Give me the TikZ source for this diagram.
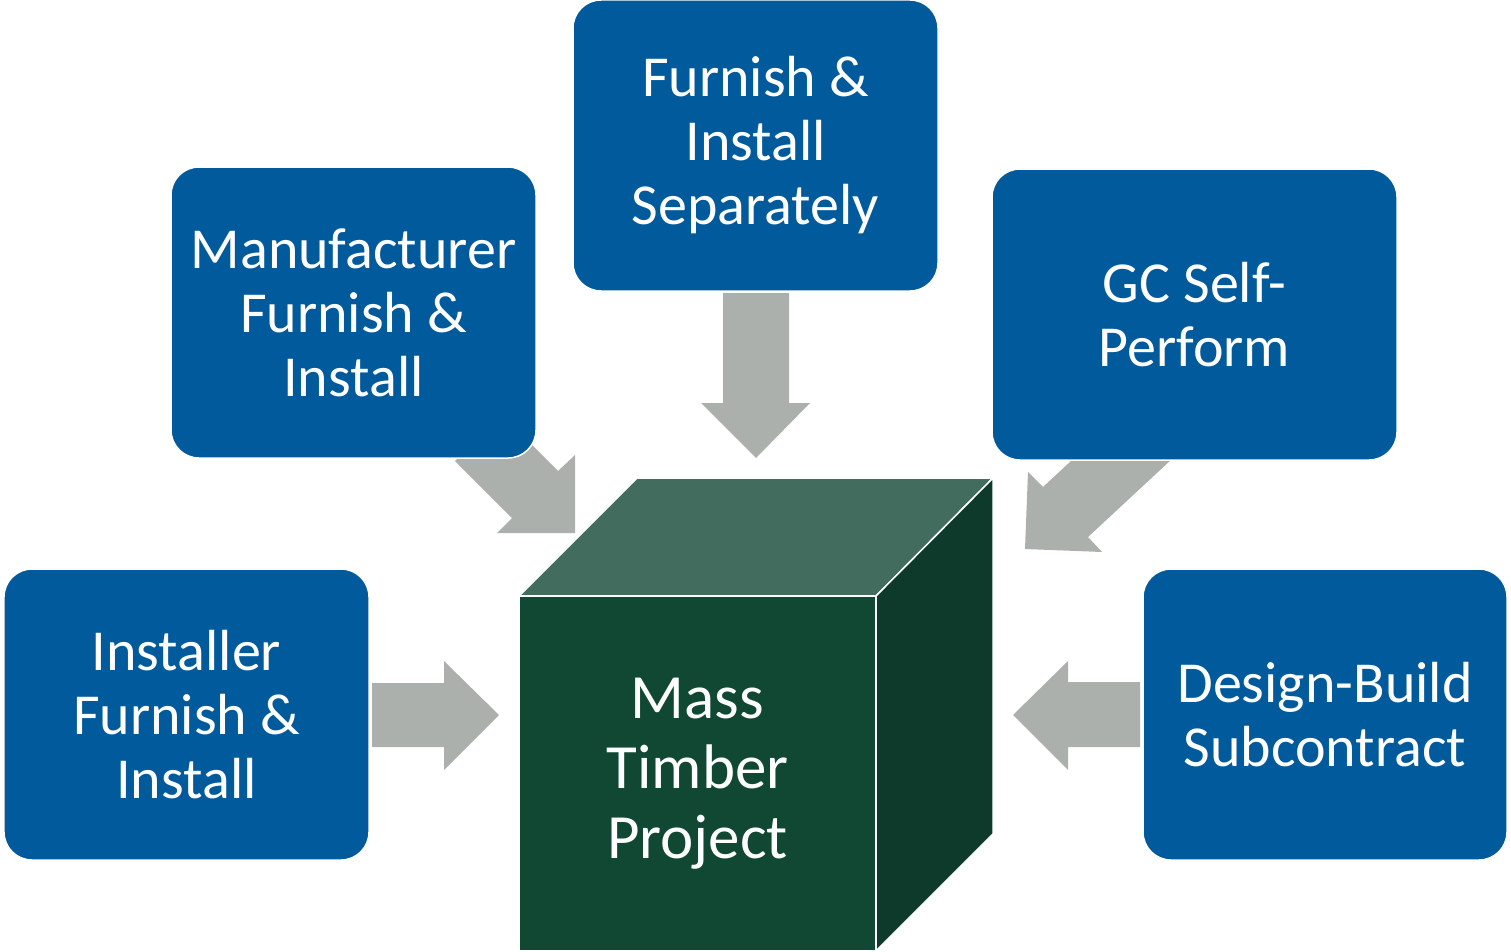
\documentclass[tikz,border=0pt]{standalone}
\usepackage{fontspec}
\setmainfont{Carlito}
\definecolor{boxblue}{HTML}{005A9C}
\definecolor{arrgray}{HTML}{ABB0AD}
\definecolor{cubefront}{HTML}{104834}
\definecolor{cubetop}{HTML}{416C5E}
\definecolor{cubeside}{HTML}{0E3A2C}
\begin{document}
\begin{tikzpicture}[x=1bp,y=-1bp,
  box/.style={draw=white, line width=1.5bp, fill=boxblue, rounded corners=28bp,
    minimum width=365bp, minimum height=291bp, inner sep=0pt, align=center,
    text=white, font=\fontsize{58bp}{64bp}\selectfont},
  blockarrow/.style={fill=arrgray},
  face/.style={draw=white, line width=1.5bp}]
\useasboundingbox (0,0) rectangle (1511,951);
% block arrows
\fill[blockarrow] (723,293) -- (789,293) -- (789,403) -- (810,403) -- (756,458) -- (701,403) -- (723,403) -- cycle;
\fill[blockarrow] (372,683) -- (444,683) -- (444,661) -- (499,715) -- (444,770) -- (444,747) -- (372,747) -- cycle;
\fill[blockarrow] (1140,682) -- (1068,682) -- (1068,661) -- (1013,715) -- (1068,770) -- (1068,747) -- (1140,747) -- cycle;
\fill[blockarrow] (455,461) -- (512,518) -- (497,533) -- (575,533) -- (575,455) -- (558,471) -- (501.5,414.5) -- cycle;
\fill[blockarrow] (1115,420) -- (1043,487) -- (1028,472) -- (1025,549) -- (1102,552) -- (1088,537) -- (1214,420) -- cycle;
% boxes
\node[box] (mfi) at (353.5,312.5) {Manufacturer\\Furnish \&\\Install};
\node[box] (fis) at (755.5,145.5) {Furnish \&\\Install\\Separately};
\node[box, minimum width=405bp] (gc) at (1194.5,314.5) {GC Self-\\Perform};
\node[box] (ifi) at (186.5,714.5) {Installer\\Furnish \&\\Install};
\node[box, minimum width=364bp] (dbs) at (1325,714.5) {Design-Build\\Subcontract};
% cube
\filldraw[face, fill=cubetop] (519,596) -- (637,478) -- (993,478) -- (876,596) -- cycle;
\filldraw[face, fill=cubeside] (876,596) -- (993,478) -- (993,834) -- (876,951) -- cycle;
\node[face, fill=cubefront, minimum width=357bp, minimum height=355bp, inner sep=0pt,
  text=white, align=center, font=\fontsize{63bp}{70bp}\selectfont] (mtp) at (697.5,773.5) {Mass\\Timber\\Project};
\end{tikzpicture}
\end{document}
